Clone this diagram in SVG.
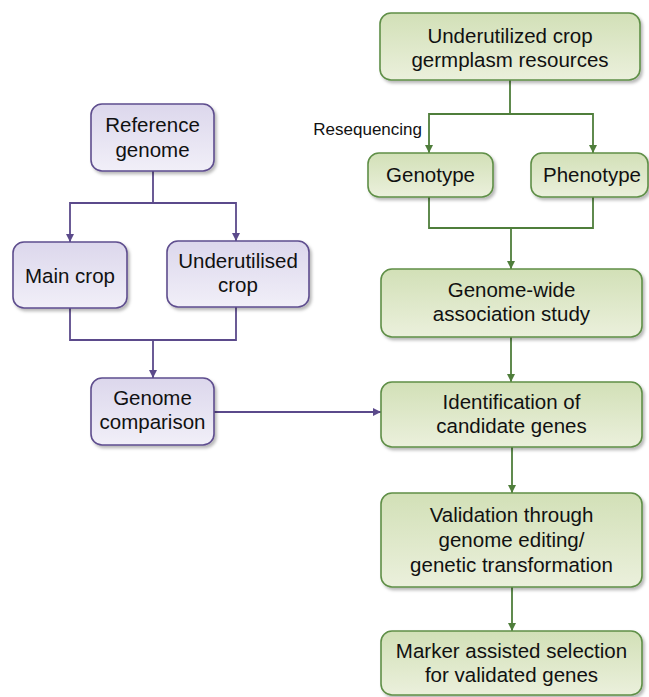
<svg xmlns="http://www.w3.org/2000/svg" width="649" height="697" viewBox="0 0 649 697">
  <defs>
    <linearGradient id="gPurple" x1="0" y1="0" x2="0" y2="1">
      <stop offset="0" stop-color="#dcd7ec"/>
      <stop offset="1" stop-color="#f1eff8"/>
    </linearGradient>
    <linearGradient id="gGreen" x1="0" y1="0" x2="0" y2="1">
      <stop offset="0" stop-color="#d2e0b7"/>
      <stop offset="1" stop-color="#ebf0dc"/>
    </linearGradient>
    <filter id="shadow" x="-10%" y="-10%" width="130%" height="140%">
      <feDropShadow dx="2" dy="2.5" stdDeviation="1.8" flood-color="#000" flood-opacity="0.28"/>
    </filter>
    <marker id="arrP" markerUnits="userSpaceOnUse" markerWidth="10" markerHeight="10" refX="8" refY="5" orient="auto">
      <path d="M0,1 L8,5 L0,9 z" fill="#5b4a8b"/>
    </marker>
    <marker id="arrG" markerUnits="userSpaceOnUse" markerWidth="10" markerHeight="10" refX="8" refY="5" orient="auto">
      <path d="M0,1 L8,5 L0,9 z" fill="#4f7e3b"/>
    </marker>
  </defs>
  <style>
    .p rect { fill: url(#gPurple); stroke: #5e4e8e; stroke-width: 1.6; filter: url(#shadow); }
    .g rect { fill: url(#gGreen); stroke: #5f8f47; stroke-width: 1.6; filter: url(#shadow); }
    text { font-family: "Liberation Sans", Arial, sans-serif; font-size: 20.5px; fill: #111111; text-anchor: middle; }
    .lbl { font-size: 17px; text-anchor: end; }
    .cp { fill: none; stroke: #5b4a8b; stroke-width: 1.8; }
    .cg { fill: none; stroke: #4f7e3b; stroke-width: 1.8; }
  </style>

  <g id="connectors">
    <path class="cg" d="M510 80 V114 H429 V153" marker-end="url(#arrG)"/>
    <path class="cg" d="M510 114 H593 V153" marker-end="url(#arrG)"/>
    <path class="cg" d="M429 197 V228 H593 V197"/>
    <path class="cg" d="M511 228 V269" marker-end="url(#arrG)"/>
    <path class="cg" d="M511 337 V382" marker-end="url(#arrG)"/>
    <path class="cg" d="M512 447 V493" marker-end="url(#arrG)"/>
    <path class="cg" d="M512 587 V631" marker-end="url(#arrG)"/>
    <path class="cp" d="M153 171 V203 H70 V242" marker-end="url(#arrP)"/>
    <path class="cp" d="M153 203 H236 V241" marker-end="url(#arrP)"/>
    <path class="cp" d="M70 308 V340 H236 V307"/>
    <path class="cp" d="M153 340 V378" marker-end="url(#arrP)"/>
    <path class="cp" d="M214 412 H381" marker-end="url(#arrP)"/>
    <text class="lbl" x="422" y="135">Resequencing</text>
  </g>

  <g id="n_germplasm" class="g">
    <rect x="380" y="13" width="260" height="67" rx="11"/>
    <text x="510" y="43">Underutilized crop</text>
    <text x="510" y="67">germplasm resources</text>
  </g>
  <g id="n_genotype" class="g">
    <rect x="368" y="153" width="125" height="44" rx="11"/>
    <text x="430.5" y="182">Genotype</text>
  </g>
  <g id="n_phenotype" class="g">
    <rect x="531" y="153" width="117" height="44" rx="11"/>
    <text x="592" y="182">Phenotype</text>
  </g>
  <g id="n_gwas" class="g">
    <rect x="381" y="269" width="261" height="68" rx="11"/>
    <text x="511.5" y="297">Genome-wide</text>
    <text x="511.5" y="321">association study</text>
  </g>
  <g id="n_identification" class="g">
    <rect x="381" y="382" width="261" height="65" rx="11"/>
    <text x="511.5" y="409">Identification of</text>
    <text x="511.5" y="433">candidate genes</text>
  </g>
  <g id="n_validation" class="g">
    <rect x="381" y="493" width="261" height="94" rx="11"/>
    <text x="511.5" y="522">Validation through</text>
    <text x="511.5" y="547">genome editing/</text>
    <text x="511.5" y="572">genetic transformation</text>
  </g>
  <g id="n_marker" class="g">
    <rect x="381" y="631" width="261" height="64" rx="11"/>
    <text x="511.5" y="658">Marker assisted selection</text>
    <text x="511.5" y="682">for validated genes</text>
  </g>

  <g id="n_reference" class="p">
    <rect x="91" y="104" width="123" height="67" rx="11"/>
    <text x="152.5" y="132">Reference</text>
    <text x="152.5" y="157">genome</text>
  </g>
  <g id="n_main" class="p">
    <rect x="13" y="242" width="114" height="66" rx="11"/>
    <text x="70" y="283">Main crop</text>
  </g>
  <g id="n_underutilised" class="p">
    <rect x="167" y="241" width="142" height="66" rx="11"/>
    <text x="238" y="268">Underutilised</text>
    <text x="238" y="292">crop</text>
  </g>
  <g id="n_comparison" class="p">
    <rect x="91" y="378" width="123" height="67" rx="11"/>
    <text x="152.5" y="405">Genome</text>
    <text x="152.5" y="429">comparison</text>
  </g>
</svg>
